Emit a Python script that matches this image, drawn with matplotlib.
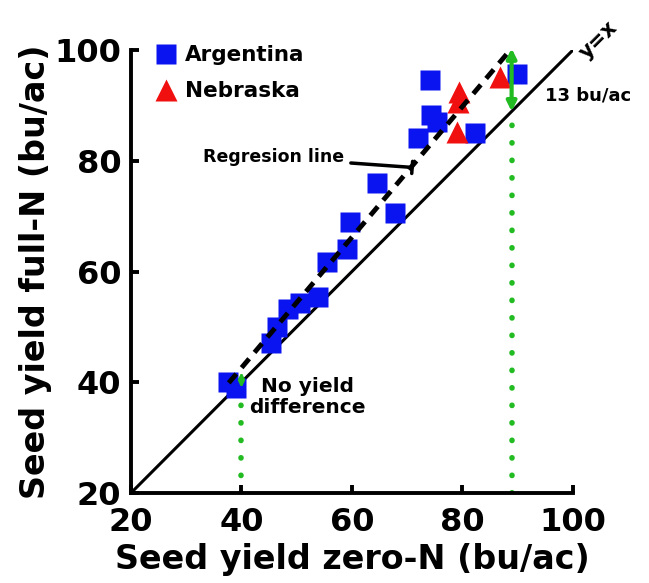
import matplotlib
matplotlib.use("Agg")
import matplotlib.pyplot as plt
import numpy as np

# yields (bu/ac)
arg_zero = [37.5, 39.0, 45.3, 46.4, 48.4, 50.6, 53.8, 55.5, 59.1, 59.6, 64.5, 67.8, 71.9, 74.1, 74.3, 75.4, 82.3, 89.9]
arg_full = [40.0, 39.0, 47.0, 49.9, 53.2, 54.4, 55.4, 61.7, 64.1, 68.9, 76.0, 70.6, 84.1, 94.5, 88.2, 87.0, 85.0, 95.6]
neb_zero = [79.4, 79.2, 79.0, 86.8]
neb_full = [92.4, 90.6, 85.2, 95.1]

reg_slope = 1.18
reg_intercept = -4.6
reg_range = [37.7, 88.2]

gap_x = 88.9        # where the 13 bu/ac gap is marked
nodiff_x = 40.0     # where regression meets y=x
ticks = [20, 40, 60, 80, 100]

green = '#22bb22'

fig = plt.figure(figsize=(6.49, 5.83), dpi=100)
ax = fig.add_axes([0.2018, 0.1544, 0.681, 0.7598])

# 1:1 line
ax.plot([20, 100], [20, 100], color='black', lw=2.2, zorder=2)

# regression line
rx = np.array(reg_range)
ax.plot(rx, reg_slope * rx + reg_intercept, color='black', lw=3.5,
        dashes=(2.4, 1.7), zorder=4)

ax.plot(arg_zero, arg_full, 's', color='#0a14f0', ms=14, mec='none',
        label='Argentina', zorder=3)
ax.plot(neb_zero, neb_full, '^', color='#f01010', ms=15.5, mec='none',
        label='Nebraska', zorder=3)

# green dotted guides
ax.plot([gap_x, gap_x], [20, gap_x], color=green, lw=4,
        linestyle=(0, (0.05, 3.1)), dash_capstyle='round', zorder=1)
ax.plot([nodiff_x, nodiff_x], [20, nodiff_x - 1], color=green, lw=4,
        linestyle=(0, (0.05, 3.1)), dash_capstyle='round', zorder=1)

# double arrows
top = reg_slope * gap_x + reg_intercept
ax.annotate('', xy=(gap_x, top), xytext=(gap_x, gap_x), annotation_clip=False,
            arrowprops=dict(arrowstyle='<|-|>', color=green, lw=3,
                            mutation_scale=14, shrinkA=0, shrinkB=0), zorder=5)
ax.annotate('', xy=(nodiff_x, 41.8), xytext=(nodiff_x, 39.0), annotation_clip=False,
            arrowprops=dict(arrowstyle='<|-|>', color=green, lw=2,
                            mutation_scale=8, shrinkA=0, shrinkB=0), zorder=5)

# labels in the plot
ax.text(94.9, 91.8, '13 bu/ac', fontsize=13, fontweight='bold', va='center', ha='left')
ax.text(51.9, 37.3, 'No yield\ndifference', fontsize=14.5, fontweight='bold',
        va='center', ha='center', multialignment='center', linespacing=1.1)
ax.text(104.6, 101.8, 'y=x', fontsize=15, fontweight='bold', rotation=45,
        va='center', ha='center')
ax.annotate('Regresion line', xy=(70.9, 78.8), xytext=(33.0, 80.6),
            fontsize=12.5, fontweight='bold', va='center', ha='left',
            arrowprops=dict(arrowstyle='|-|, widthA=0, widthB=0.35', color='black',
                            lw=2.5, shrinkA=3, shrinkB=0))

ax.legend(loc='upper left', bbox_to_anchor=(0.015, 1.045), frameon=False,
          prop={'size': 15.5, 'weight': 'bold'}, handletextpad=0.3,
          borderaxespad=0.3, labelspacing=0.75, handlelength=1.2)

ax.set_xlim(20, 100)
ax.set_ylim(20, 100)
ax.set_xticks(ticks)
ax.set_yticks(ticks)
for side in ['top', 'right']:
    ax.spines[side].set_visible(False)
for side in ['left', 'bottom']:
    ax.spines[side].set_linewidth(2.8)
ax.tick_params(direction='in', length=6, width=2.8, labelsize=23, pad=7)
ax.tick_params(axis='x', pad=10)
for lab in ax.get_xticklabels() + ax.get_yticklabels():
    lab.set_fontweight('bold')

ax.set_xlabel('Seed yield zero-N (bu/ac)', fontsize=24, fontweight='bold', labelpad=4)
ax.set_ylabel('Seed yield full-N (bu/ac)', fontsize=24, fontweight='bold', labelpad=2)

fig.savefig('out.png', dpi=100)
